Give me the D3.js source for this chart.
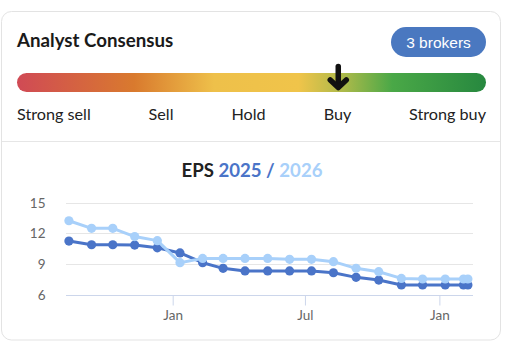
<!DOCTYPE html>
<html><head><meta charset="utf-8">
<script src="https://cdn.jsdelivr.net/npm/d3@7"></script>
<style>
html,body{margin:0;padding:0;background:#fff;}
svg{display:block;font-family:Lato,"Noto Sans",sans-serif;}
</style></head>
<body><svg id="c" width="506" height="352"></svg>
<script>
const ratingLabels = ["Strong sell","Sell","Hold","Buy","Strong buy"];
const consensus = 3.74; // position on 1..5 scale -> arrow
const brokers = 3;
const dates = ["2024-08-12","2024-09-12","2024-10-11","2024-11-10","2024-12-11","2025-01-11","2025-02-11","2025-03-11","2025-04-10","2025-05-11","2025-06-10","2025-07-10","2025-08-09","2025-09-09","2025-10-10","2025-11-10","2025-12-09","2026-01-09","2026-02-03","2026-02-09"];
const eps2025 = [11.26,10.9,10.9,10.87,10.6,10.1,9.15,8.6,8.35,8.35,8.35,8.35,8.17,7.72,7.46,6.98,6.98,6.98,6.98,6.98];
const eps2026 = [13.24,12.5,12.5,11.7,11.3,9.15,9.57,9.57,9.57,9.57,9.48,9.48,9.25,8.6,8.27,7.62,7.56,7.56,7.56,7.56];
const yTicks = [6,9,12,15];

const svg = d3.select("#c");
// card
svg.append("rect").attr("x",1.5).attr("y",11.5).attr("width",499).attr("height",328.5)
  .attr("rx",10).attr("fill","#fff").attr("stroke","#e3e3e3").attr("stroke-width",1);
svg.append("line").attr("x1",2).attr("x2",500).attr("y1",141.5).attr("y2",141.5).attr("stroke","#e6e6e6");

// title
svg.append("text").attr("x",17).attr("y",46.5).attr("font-size",18.7).attr("font-weight",700)
  .attr("fill","#1a1a1a").text("Analyst Consensus");
// badge
svg.append("rect").attr("x",391).attr("y",27).attr("width",95).attr("height",30).attr("rx",15).attr("fill","#4a78c0");
svg.append("text").attr("x",438.5).attr("y",47.5).attr("text-anchor","middle").attr("font-size",15.5)
  .attr("font-family","'Liberation Sans',Arial,sans-serif")
  .attr("fill","#fff").text(brokers+" brokers");

// gauge
const defs = svg.append("defs");
const g = defs.append("linearGradient").attr("id","gg").attr("x1","0").attr("x2","1");
[[0,"#d04a55"],[0.25,"#d97a2e"],[0.42,"#eec04a"],[0.6,"#f0c44a"],[0.7,"#a9b94a"],[0.8,"#4aa847"],[1,"#27883f"]]
  .forEach(([o,c])=>g.append("stop").attr("offset",o).attr("stop-color",c));
const gx = d3.scaleLinear().domain([1,5]).range([17,486]);
svg.append("rect").attr("x",17).attr("y",73).attr("width",469).attr("height",19).attr("rx",9.5).attr("fill","url(#gg)");
// arrow
const ax = gx(consensus);
const arrow = svg.append("g").attr("stroke","#111").attr("stroke-width",5.5).attr("stroke-linecap","round").attr("stroke-linejoin","round").attr("fill","none");
arrow.append("line").attr("x1",ax).attr("x2",ax).attr("y1",66.5).attr("y2",86);
arrow.append("polyline").attr("points",`${ax-8},${80} ${ax},${87.5} ${ax+8},${80}`);

// rating labels
const labPos = [[17,"start"],[161,"middle"],[248.5,"middle"],[337.5,"middle"],[486,"end"]];
ratingLabels.forEach((t,i)=>{
  svg.append("text").attr("x",labPos[i][0]).attr("y",119.5).attr("text-anchor",labPos[i][1])
    .attr("font-size",16.2).attr("fill","#222").text(t);
});

// chart title
const tt = svg.append("text").attr("x",252).attr("y",176.5).attr("text-anchor","middle").attr("font-size",18.6).attr("font-weight",700);
tt.append("tspan").attr("fill","#222").text("EPS ");
tt.append("tspan").attr("fill","#4a74c8").text("2025 / ");
tt.append("tspan").attr("fill","#a8d0fa").text("2026");

// scales
const parse = d3.timeParse("%Y-%m-%d");
const dd = dates.map(parse);
const x = d3.scaleTime().domain([new Date(2024,7,8), new Date(2026,1,16)]).range([66,473]);
const y = d3.scaleLinear().domain([6,15]).range([295,202.7]);

// grid
svg.append("g").selectAll("line").data(yTicks.filter(v=>v!==6)).join("line")
  .attr("x1",66).attr("x2",473).attr("y1",d=>Math.round(y(d))+0.5).attr("y2",d=>Math.round(y(d))+0.5)
  .attr("stroke","#e6e6e6");
svg.append("g").selectAll("text").data(yTicks).join("text")
  .attr("x",45.5).attr("y",d=>y(d)+4.8).attr("text-anchor","end").attr("font-size",13.5).attr("fill","#666").text(d=>d);

// x axis
const xAxis = d3.axisBottom(x).tickValues([new Date(2025,0,1),new Date(2025,6,1),new Date(2026,0,1)])
  .tickFormat(d3.timeFormat("%b")).tickSizeOuter(0).tickSize(10).tickPadding(5);
const xa = svg.append("g").attr("transform","translate(0,295.5)").call(xAxis);
xa.select(".domain").attr("stroke","#ccd6eb").attr("d","M66,0H473");
xa.selectAll(".tick line").attr("stroke","#ccd6eb");
xa.selectAll(".tick text").attr("font-size",13.5).attr("fill","#666").attr("font-family","Lato,sans-serif");

// series
const line = d3.line().x(d=>x(d[0])).y(d=>y(d[1]));
function series(vals,color){
  const pts = dd.map((d,i)=>[d,vals[i]]);
  svg.append("path").datum(pts).attr("d",line).attr("fill","none").attr("stroke",color).attr("stroke-width",3).attr("stroke-linejoin","round");
  svg.append("g").selectAll("circle").data(pts).join("circle")
    .attr("cx",d=>x(d[0])).attr("cy",d=>y(d[1])).attr("r",4.6).attr("fill",color);
}
series(eps2025,"#4a74c8");
series(eps2026,"#a8d0fa");
</script></body></html>
